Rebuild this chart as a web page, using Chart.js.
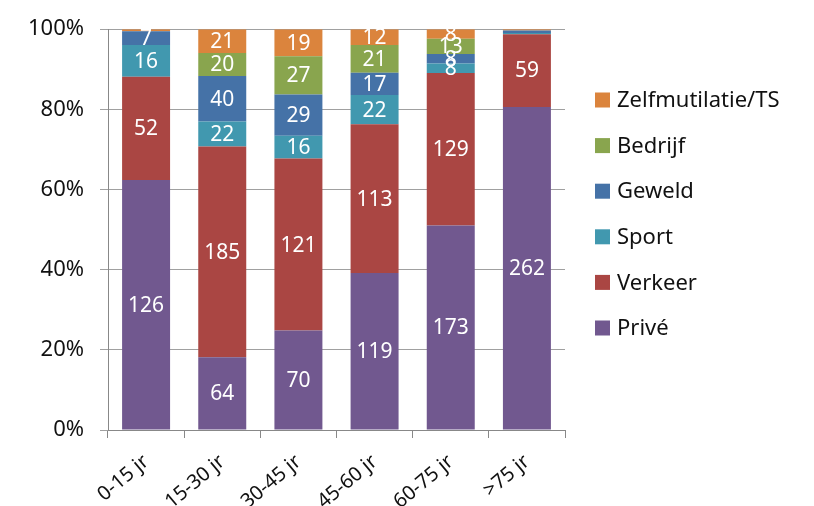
<!DOCTYPE html>
<html>
<head>
<meta charset="utf-8">
<script src="https://cdn.jsdelivr.net/npm/chart.js@4"></script>
<style>
  html, body { margin: 0; padding: 0; background: #fff; }
  #wrap { width: 814px; height: 506px; position: relative; }
</style>
</head>
<body>
<div id="wrap"><canvas id="chart"></canvas></div>
<script>
// Age groups and counts per cause
const categories = ['0-15 jr', '15-30 jr', '30-45 jr', '45-60 jr', '60-75 jr', '>75 jr'];

const prive   = [126,  64,  70, 119, 173, 262];
const verkeer = [ 52, 185, 121, 113, 129,  59];
const sport   = [ 16,  22,  16,  22,   8,   1];
const geweld  = [  7,  40,  29,  17,   8,   2];
const bedrijf = [  0,  20,  27,  21,  13,   0];
const zelfmut = [  1,  21,  19,  12,   8,   1];

const yTicks = [0, 20, 40, 60, 80, 100];

const series = [
    { label: 'Privé',             counts: prive,   color: '#71588F' },
    { label: 'Verkeer',           counts: verkeer, color: '#AA4643' },
    { label: 'Sport',             counts: sport,   color: '#4198AF' },
    { label: 'Geweld',            counts: geweld,  color: '#4572A7' },
    { label: 'Bedrijf',           counts: bedrijf, color: '#89A54E' },
    { label: 'Zelfmutilatie/TS',  counts: zelfmut, color: '#DB843D' },
];

// totals per age group, used to turn counts into percentages
const totals = categories.map((_, i) => series.reduce((s, d) => s + d.counts[i], 0));

const FONT = '"Noto Sans", "Open Sans", sans-serif';

// draws the count inside each segment (white, centered)
const segmentLabels = {
    id: 'segmentLabels',
    afterDatasetsDraw(chart) {
        const ctx = chart.ctx;
        ctx.save();
        ctx.fillStyle = '#fff';
        ctx.font = `21px ${FONT}`;
        ctx.textAlign = 'center';
        ctx.textBaseline = 'middle';
        chart.data.datasets.forEach((ds, di) => {
            const meta = chart.getDatasetMeta(di);
            meta.data.forEach((bar, i) => {
                const n = ds.counts[i];
                if (n < 5) return;
                const { x, y, base } = bar.getProps(['x', 'y', 'base'], true);
                ctx.fillText(String(n), x, (y + base) / 2 + 1);
            });
        });
        ctx.restore();
    }
};

// legend on the right, top item = last series (like the original)
const sideLegend = {
    id: 'sideLegend',
    afterDraw(chart) {
        const ctx = chart.ctx;
        const area = chart.chartArea;
        const x0 = area.right + 30;
        const rowH = 45.6;
        const y0 = 100;
        ctx.save();
        ctx.font = `22px ${FONT}`;
        ctx.textBaseline = 'middle';
        ctx.textAlign = 'left';
        const items = chart.data.datasets.slice().reverse();
        items.forEach((ds, k) => {
            const cy = y0 + k * rowH;
            ctx.fillStyle = ds.backgroundColor;
            ctx.fillRect(x0, cy - 7.5, 15, 15);
            ctx.fillStyle = '#111';
            ctx.fillText(ds.label, x0 + 22, cy + 1);
        });
        ctx.restore();
    }
};

new Chart(document.getElementById('chart'), {
    type: 'bar',
    data: {
        labels: categories,
        datasets: series.map(s => ({
            label: s.label,
            counts: s.counts,
            data: s.counts.map((v, i) => v / totals[i] * 100),
            backgroundColor: s.color,
            borderWidth: 0,
            barPercentage: 0.63,
            categoryPercentage: 1,
        }))
    },
    options: {
        responsive: true,
        maintainAspectRatio: false,
        animation: false,
        layout: { padding: { top: 27, right: 249, left: 0, bottom: 0 } },
        plugins: {
            tooltip: { enabled: false },
            legend: { display: false }
        },
        scales: {
            x: {
                stacked: true,
                afterFit: axis => { axis.height = 76; },
                grid: {
                    display: true,
                    drawOnChartArea: false,
                    tickLength: 8,
                    color: '#888',
                },
                border: { color: '#888' },
                ticks: {
                    color: '#111',
                    maxRotation: 40,
                    minRotation: 40,
                    padding: 12,
                    font: { family: FONT, size: 20 },
                }
            },
            y: {
                stacked: true,
                min: 0,
                max: 100,
                afterFit: axis => { axis.width = 108; },
                afterBuildTicks: axis => { axis.ticks = yTicks.map(v => ({ value: v })); },
                grid: { color: '#a0a0a0', tickLength: 8 },
                border: { color: '#888' },
                ticks: {
                    color: '#111',
                    padding: 16,
                    font: { family: FONT, size: 22 },
                    callback: v => v + '%'
                }
            }
        }
    },
    plugins: [segmentLabels, sideLegend]
});
</script>
</body>
</html>
